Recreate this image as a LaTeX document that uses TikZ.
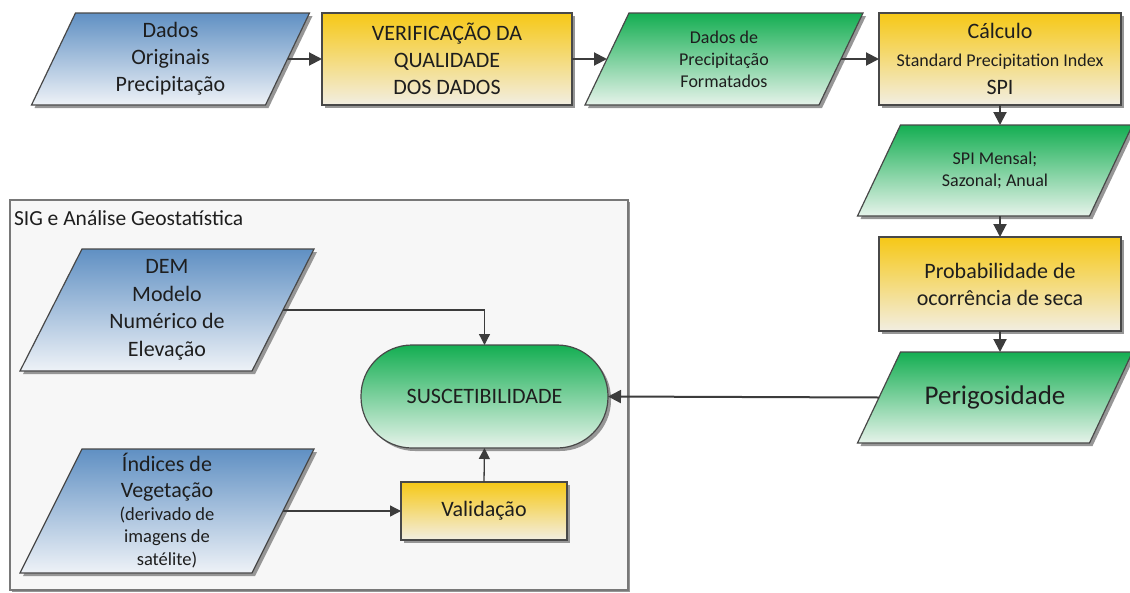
\documentclass[tikz,border=0pt]{standalone}
\usepackage{fontspec}
\setmainfont{Carlito}
\usetikzlibrary{arrows.meta,backgrounds,shadows,calc}
\pgfdeclarelayer{bg0}
\pgfsetlayers{bg0,background,main}
\definecolor{txtc}{RGB}{30,30,30}
\definecolor{bordc}{RGB}{72,72,72}
\definecolor{shadowc}{RGB}{150,150,150}
\definecolor{arrc}{RGB}{60,60,60}
\definecolor{blueT}{RGB}{96,144,195}
\definecolor{blueB}{RGB}{238,242,247}
\definecolor{yellT}{RGB}{246,200,22}
\definecolor{yellB}{RGB}{242,238,226}
\definecolor{greenT}{RGB}{20,174,82}
\definecolor{greenB}{RGB}{230,243,234}
\definecolor{grpfill}{RGB}{247,247,247}
\definecolor{grpbord}{RGB}{120,120,120}

% #1 node name, #2 slant, #3 fill style
\newcommand\drawpara[3]{%
  \begin{pgfonlayer}{background}
    \fill[shadowc] ([shift={(#2+3,3)}]#1.north west) -- ([shift={(#2+3,3)}]#1.north east)
      -- ([shift={(-#2+3,3)}]#1.south east) -- ([shift={(-#2+3,3)}]#1.south west) -- cycle;
    \path[#3,draw=bordc,line width=1.2pt] ([shift={(#2,0)}]#1.north west) -- ([shift={(#2,0)}]#1.north east)
      -- ([shift={(-#2,0)}]#1.south east) -- ([shift={(-#2,0)}]#1.south west) -- cycle;
  \end{pgfonlayer}}

\begin{document}
\begin{tikzpicture}[x=1pt,y=-1pt,
  txt/.style={text=txtc,align=center,inner sep=0pt,outer sep=0pt},
  pnode/.style={txt},
  rnode/.style={txt,draw=bordc,line width=1.2pt,
    drop shadow={shadow xshift=3pt,shadow yshift=-3pt,fill=shadowc,opacity=1}},
  blu/.style={top color=blueT,bottom color=blueB},
  yel/.style={top color=yellT,bottom color=yellB},
  grn/.style={top color=greenT,bottom color=greenB},
  fbig/.style={font=\fontsize{22}{27}\selectfont},
  fsmall/.style={font=\fontsize{18}{22}\selectfont},
  flow/.style={draw=arrc,line width=2pt,-{Triangle[length=13pt,width=13pt]}},
  thin/.style={draw=arrc,line width=1.3pt,-{Triangle[length=11pt,width=11pt]}},
  grpbox/.style={draw=grpbord,line width=1.3pt,fill=grpfill,
    drop shadow={shadow xshift=2pt,shadow yshift=-2pt,fill=shadowc,opacity=1}}
]
\useasboundingbox (0,0) rectangle (1130,592);

% group box
\begin{pgfonlayer}{bg0}
  \node[grpbox,anchor=north west,minimum width=618pt,minimum height=390pt,inner sep=0pt,outer sep=0pt] (grp) at (10,200) {};
\end{pgfonlayer}
\node[txt,anchor=base west,font=\fontsize{21.5}{26}\selectfont] (grptitle) at (14,225) {SIG e Análise Geostatística};

% top row
\node[pnode,fbig,minimum width=234pt,minimum height=92pt] (n1) at (170.5,59) {Dados\\Originais\\Precipitação};
\drawpara{n1}{22}{blu}
\node[rnode,yel,fbig,minimum width=250pt,minimum height=92pt] (n2) at (447,59) {VERIFICAÇÃO DA\\QUALIDADE\\DOS DADOS};
\node[pnode,fsmall,minimum width=234pt,minimum height=92pt] (n3) at (724,59) {Dados de\\Precipitação\\Formatados};
\drawpara{n3}{22}{grn}
\node[rnode,yel,font=\fontsize{22}{28}\selectfont,minimum width=242pt,minimum height=92pt] (n4) at (1000,59)
  {Cálculo\\{\fontsize{18}{28}\selectfont Standard Precipitation Index}\\SPI};

% right column
\node[pnode,fsmall,minimum width=232pt,minimum height=91pt] (n5) at (995,170.5) {SPI Mensal;\\Sazonal; Anual};
\drawpara{n5}{21.5}{grn}
\node[rnode,yel,fbig,minimum width=242pt,minimum height=94pt] (n6) at (1000,284) {Probabilidade de\\ocorrência de seca};
\node[pnode,font=\fontsize{27}{32}\selectfont,minimum width=232pt,minimum height=91pt] (n7) at (995,397.5) {Perigosidade};
\drawpara{n7}{21.5}{grn}

% group content
\node[pnode,font=\fontsize{22}{27.5}\selectfont,minimum width=232pt,minimum height=122pt] (dem) at (167,310) {DEM\\Modelo\\Numérico de\\Elevação};
\drawpara{dem}{31}{blu}
\node[pnode,font=\fontsize{22}{26}\selectfont,minimum width=232pt,minimum height=124pt] (idx) at (167,511)
  {Índices de\\Vegetação\\[-3pt]{\fontsize{18.5}{22}\selectfont (derivado de}\\[-4pt]{\fontsize{18.5}{22}\selectfont imagens de}\\[-3pt]{\fontsize{18.5}{22}\selectfont satélite)}};
\drawpara{idx}{31}{blu}
\node[rnode,grn,fbig,minimum width=247pt,minimum height=103pt,rounded corners=51pt] (sus) at (484.5,396.5) {SUSCETIBILIDADE};
\node[rnode,yel,fbig,minimum width=166pt,minimum height=58pt] (val) at (484,511) {Validação};

% connectors
\draw[flow] (n1.east) -- (n2.west);
\draw[flow] (n2.east) -- (n3.west);
\draw[flow] (n3.east) -- (n4.west);
\draw[flow] (n4.south) -- (n4.south |- n5.north);
\draw[flow] (n6.north |- n5.south) -- (n6.north);
\draw[flow] (n6.south) -- (n6.south |- n7.north);
\draw[flow] (n7.west) -- (sus.east);
\draw[thin] (dem.east) -| (sus.north);
\draw[thin] (idx.east) -- (val.west);
\draw[thin] (val.north) -- (sus.south);
\end{tikzpicture}
\end{document}
